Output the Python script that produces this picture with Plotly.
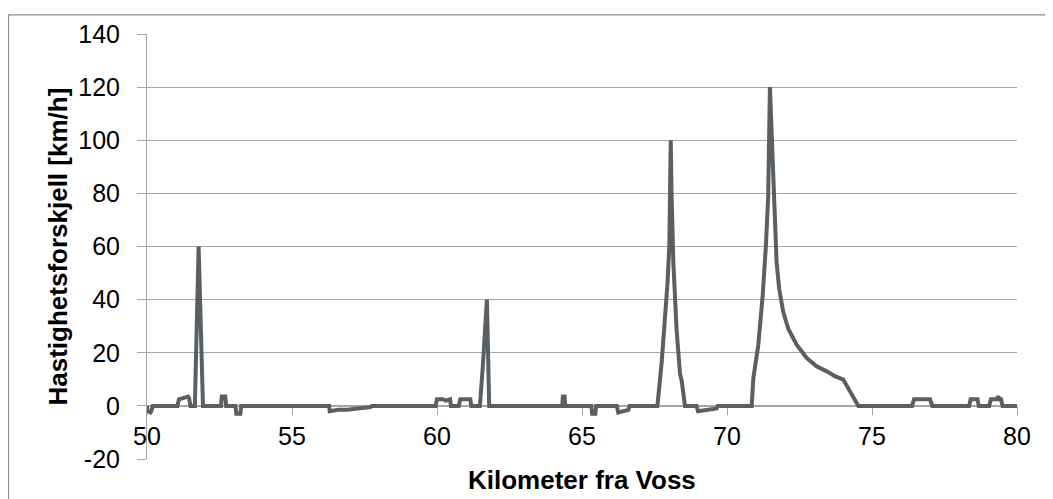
import plotly.graph_objects as go

# Kilometre positions and speed differences
km = [50.0, 50.02, 50.05, 50.12, 50.15, 50.2,
      51.05, 51.1, 51.3, 51.42, 51.45, 51.5,
      51.65, 51.78, 51.93,
      52.55, 52.58, 52.7, 52.73,
      53.05, 53.08, 53.22, 53.25,
      56.28, 56.3, 56.6, 56.9, 57.2, 57.5, 57.7, 57.75,
      59.95, 60.0, 60.2, 60.3, 60.45, 60.48,
      60.75, 60.8, 61.15, 61.18,
      61.48, 61.58, 61.72, 61.8,
      64.32, 64.34, 64.4, 64.42,
      65.32, 65.35, 65.46, 65.49,
      66.2, 66.25, 66.6, 66.64,
      67.6, 67.75, 67.86, 67.95, 68.01, 68.06, 68.09, 68.15, 68.26, 68.38, 68.44, 68.55,
      68.95, 69.0, 69.64, 69.68,
      70.85, 70.91, 71.08, 71.23, 71.34, 71.42, 71.48, 71.54, 71.6, 71.71, 71.8, 71.94,
      72.11, 72.4, 72.75, 73.09, 73.44, 73.72, 74.01, 74.53,
      76.38, 76.45, 77.0, 77.08,
      78.35, 78.4, 78.64, 78.68,
      79.04, 79.1, 79.3, 79.35, 79.4, 79.45, 79.5,
      80.0]
diff = [0, -2.5, -2, -2.5, -2, 0,
        0, 2.5, 3, 3.5, 3, 0,
        0, 60, 0,
        0, 3.5, 3.5, 0,
        0, -3, -3, 0,
        0, -2, -1.5, -1.5, -1, -0.8, -0.5, 0,
        0, 2.5, 2.5, 2, 2.5, 0,
        0, 2.5, 2.5, 0,
        0, 15, 40, 0,
        0, 3.5, 3.5, 0,
        0, -3, -3, 0,
        0, -2.5, -1.5, 0,
        0, 16.7, 31.6, 46.5, 60, 100, 78.8, 54, 29, 12, 9.3, 0,
        0, -2, -1, 0,
        0, 10.5, 23, 41.5, 60, 78.7, 120, 103.6, 78.8, 54, 44, 35.3,
        29.1, 23, 18, 14.9, 13, 11.2, 9.9, 0,
        0, 2.5, 2.5, 0,
        0, 2.5, 2.5, 0,
        0, 2.5, 2.5, 3.5, 2.5, 2.5, 0,
        0]

x_ticks = [50, 55, 60, 65, 70, 75, 80]
y_ticks = [-20, 0, 20, 40, 60, 80, 100, 120, 140]

font_family = "Liberation Sans, Arial, sans-serif"
grid_col = "#a6a6a6"

fig = go.Figure()
fig.add_trace(go.Scatter(
    x=km, y=diff, mode="lines",
    line=dict(color="#5a5f63", width=4),
    showlegend=False, hoverinfo="x+y"))

fig.update_layout(
    width=1045, height=491,
    margin=dict(l=139, r=36, t=20, b=40),
    paper_bgcolor="white", plot_bgcolor="white",
    font=dict(family=font_family, color="black", size=25),
    xaxis=dict(
        range=[50, 80], tickvals=x_ticks, ticktext=[str(v) for v in x_ticks],
        anchor="free", position=0.125, layer="below traces",
        showline=True, linecolor=grid_col, linewidth=1,
        ticks="outside", ticklen=8, tickcolor=grid_col,
        showgrid=False, zeroline=False,
        tickfont=dict(size=25),
    ),
    yaxis=dict(
        range=[-20, 140], tickvals=y_ticks, ticktext=[str(v) for v in y_ticks],
        showline=True, linecolor=grid_col, linewidth=1, layer="below traces",
        ticks="outside", ticklen=9, tickcolor=grid_col,
        showgrid=True, gridcolor=grid_col, gridwidth=1,
        zeroline=True, zerolinecolor=grid_col, zerolinewidth=1,
        tickfont=dict(size=25), ticklabelstandoff=12,
    ),
    annotations=[
        dict(text="<b>Kilometer fra Voss</b>", xref="paper", yref="paper",
             x=0.5, y=-0.049, xanchor="center", yanchor="middle", showarrow=False,
             font=dict(size=26, family=font_family, color="black")),
        dict(text="<b>Hastighetsforskjell [km/h]</b>", xref="paper", yref="paper",
             x=-0.1034, y=0.5, xanchor="center", yanchor="middle", showarrow=False,
             textangle=-90,
             font=dict(size=26, family=font_family, color="black")),
    ],
    shapes=[dict(
        type="rect", xref="paper", yref="paper",
        x0=-0.1592, x1=1.1, y0=-0.2, y1=1.0452,
        line=dict(color="#8c8c8c", width=1.2), fillcolor="rgba(0,0,0,0)", layer="below")],
)

fig.write_html("out.html")
